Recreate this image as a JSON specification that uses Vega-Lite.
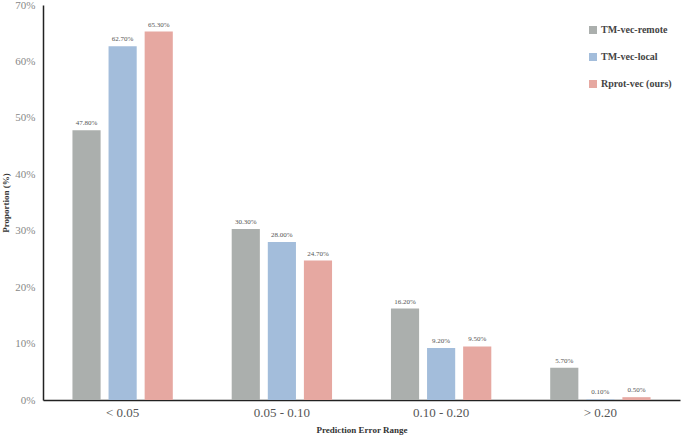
{
  "$schema": "https://vega.github.io/schema/vega-lite/v6.json",
  "autosize": "none",
  "padding": {"left": 43, "top": 5, "right": 5, "bottom": 35},
  "width": 637,
  "height": 395,
  "background": "white",
  "config": {
    "font": "Liberation Serif, Times New Roman, serif",
    "axis": {"labelFont": "Liberation Serif, serif", "titleFont": "Liberation Serif, serif"},
    "legend": {"labelFont": "Liberation Serif, serif"},
    "text": {"font": "Liberation Serif, serif"},
    "view": {"stroke": null}
  },
  "data": {
    "values": [
      {"range": "< 0.05", "method": "TM-vec-remote", "value": 47.8},
      {"range": "< 0.05", "method": "TM-vec-local", "value": 62.7},
      {"range": "< 0.05", "method": "Rprot-vec (ours)", "value": 65.3},
      {"range": "0.05 - 0.10", "method": "TM-vec-remote", "value": 30.3},
      {"range": "0.05 - 0.10", "method": "TM-vec-local", "value": 28.0},
      {"range": "0.05 - 0.10", "method": "Rprot-vec (ours)", "value": 24.7},
      {"range": "0.10 - 0.20", "method": "TM-vec-remote", "value": 16.2},
      {"range": "0.10 - 0.20", "method": "TM-vec-local", "value": 9.2},
      {"range": "0.10 - 0.20", "method": "Rprot-vec (ours)", "value": 9.5},
      {"range": "> 0.20", "method": "TM-vec-remote", "value": 5.7},
      {"range": "> 0.20", "method": "TM-vec-local", "value": 0.1},
      {"range": "> 0.20", "method": "Rprot-vec (ours)", "value": 0.5}
    ]
  },
  "transform": [
    {"calculate": "format(datum.value, '.2f') + '%'", "as": "label"}
  ],
  "encoding": {
    "x": {
      "field": "range", "type": "nominal", "sort": null,
      "scale": {"paddingInner": 0.32, "paddingOuter": 0.16},
      "axis": {
        "title": "Prediction Error Range", "titleFontSize": 9, "titleFontWeight": "bold",
        "titleColor": "#333", "titlePadding": 6,
        "labelAngle": 0, "labelFontSize": 13, "labelColor": "#555", "labelPadding": 6,
        "ticks": false, "domainColor": "#222", "domainWidth": 1.5
      }
    },
    "xOffset": {
      "field": "method", "type": "nominal", "sort": ["TM-vec-remote", "TM-vec-local", "Rprot-vec (ours)"],
      "scale": {"paddingInner": 0.22, "paddingOuter": 0.11}
    },
    "y": {
      "field": "value", "type": "quantitative",
      "scale": {"domain": [0, 70]},
      "axis": {
        "title": "Proportion (%)", "titleFontSize": 9, "titleFontWeight": "bold", "titleColor": "#333",
        "titlePadding": 4,
        "values": [0, 10, 20, 30, 40, 50, 60, 70], "labelExpr": "datum.value + '%'",
        "labelFontSize": 11, "labelColor": "#888", "labelPadding": 8,
        "ticks": false, "grid": false, "domainColor": "#222", "domainWidth": 1.5
      }
    }
  },
  "layer": [
    {
      "mark": {"type": "bar"},
      "encoding": {
        "color": {
          "field": "method", "type": "nominal",
          "sort": ["TM-vec-remote", "TM-vec-local", "Rprot-vec (ours)"],
          "scale": {"domain": ["TM-vec-remote", "TM-vec-local", "Rprot-vec (ours)"], "range": ["#ABAFAD", "#A3BDDB", "#E6A8A1"]},
          "legend": {
            "title": null, "orient": "none", "legendX": 545, "legendY": 20,
            "symbolType": "square", "symbolSize": 64, "symbolStrokeWidth": 0,
            "labelFontSize": 10, "labelFontWeight": "bold", "labelColor": "#444",
            "rowPadding": 17, "labelOffset": 3
          }
        }
      }
    },
    {
      "mark": {"type": "text", "dy": -7, "fontSize": 7, "color": "#555"},
      "encoding": {
        "text": {"field": "label", "type": "nominal"}
      }
    }
  ]
}
